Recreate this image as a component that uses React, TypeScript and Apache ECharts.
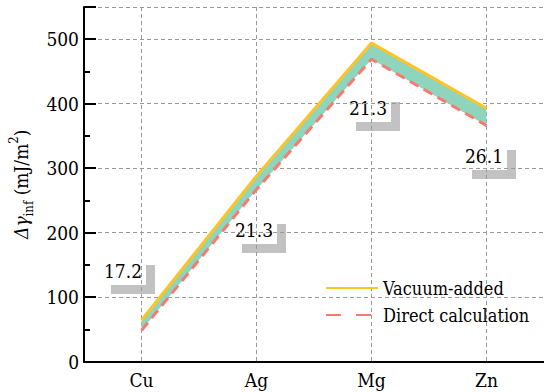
import React, { useEffect, useRef } from "react";
import * as echarts from "echarts";

const categories = ["Cu", "Ag", "Mg", "Zn"];
const vacuumAdded = [64, 288, 494, 393];
const directCalc = [48, 267, 469, 366];
const slopeLabels = ["17.2", "21.3", "21.3", "26.1"];
const yTicks = [0, 100, 200, 300, 400, 500];

const FONT = "DejaVu Serif Condensed";

// annotation anchors (right-bottom corner of each gray L, pixels)
const annoAnchors = [
  [155, 294],
  [286, 253],
  [400, 131],
  [516, 179],
];

export default function App() {
  const ref = useRef<HTMLDivElement>(null);
  useEffect(() => {
    if (!ref.current) return;
    const chart = echarts.init(ref.current, undefined, { renderer: "svg" });
    const band = vacuumAdded.map((v, i) => v - directCalc[i]);
    const graphics: any[] = [];
    annoAnchors.forEach(([R, B], i) => {
      graphics.push({
        type: "rect",
        shape: { x: R - 44, y: B - 9, width: 44, height: 9 },
        style: { fill: "#c2c2c2" },
      });
      graphics.push({
        type: "rect",
        shape: { x: R - 9, y: B - 29, width: 9, height: 29 },
        style: { fill: "#c2c2c2" },
      });
      graphics.push({
        type: "text",
        x: R - 13,
        y: B - 23.5,
        style: {
          text: slopeLabels[i],
          align: "right",
          verticalAlign: "middle",
          fontFamily: FONT,
          fontSize: 19,
          fill: "#000",
          backgroundColor: "#fff",
        },
      });
    });
    const axisLineStyle = { color: "#000", width: 2 };
    chart.setOption({
      animation: false,
      grid: { left: 84, right: 0, top: 7, bottom: 30.5, containLabel: false, outerBoundsMode: "none" },
      legend: {
        orient: "vertical",
        left: 320,
        top: 273,
        itemWidth: 52,
        itemHeight: 14,
        itemGap: 7,
        itemStyle: { opacity: 0 },
        textStyle: { fontFamily: FONT, fontSize: 18, color: "#000", lineHeight: 20 },
        data: [
          { name: "Vacuum-added" },
          { name: "Direct calculation", lineStyle: { type: [15, 15] } },
        ],
      },
      xAxis: [
        {
          type: "category",
          data: categories,
          boundaryGap: true,
          position: "bottom",
          axisLine: { lineStyle: axisLineStyle },
          axisTick: { inside: true, length: 12, alignWithLabel: true, lineStyle: axisLineStyle },
          axisLabel: { fontFamily: FONT, fontSize: 19, color: "#000", margin: 9 },
          splitLine: {
            show: true,
            alignWithLabel: true,
            lineStyle: { type: [4, 3], color: "#999", width: 1 },
          },
        },
        {
          type: "category",
          data: categories,
          boundaryGap: true,
          position: "top",
          axisLine: { lineStyle: axisLineStyle },
          axisTick: { inside: true, length: 12, alignWithLabel: true, lineStyle: axisLineStyle },
          axisLabel: { show: false },
          splitLine: { show: false },
        },
      ],
      yAxis: [
        {
          type: "value",
          min: 0,
          max: 550,
          interval: 100,
          position: "left",
          axisLine: { show: true, lineStyle: axisLineStyle },
          axisTick: { show: true, inside: true, length: 12, lineStyle: axisLineStyle },
          axisLabel: {
            fontFamily: FONT,
            fontSize: 19,
            color: "#000",
            margin: 5,
            formatter: (v: number) => (yTicks.includes(v) ? String(v) : ""),
          },
          splitLine: { show: true, lineStyle: { type: [4, 3], color: "#999", width: 1 } },
          name: "{i|Δγ}{sub|inf}{n| (mJ/m}{sup|2}{n|)}",
          nameLocation: "middle",
          nameRotate: 90,
          nameGap: 46,
          nameTextStyle: {
            fontFamily: FONT,
            fontSize: 19,
            color: "#000",
            rich: {
              i: { fontFamily: FONT, fontSize: 19, fontStyle: "italic", color: "#000", lineHeight: 28 },
              sub: { fontFamily: FONT, fontSize: 13, color: "#000", lineHeight: 14, verticalAlign: "bottom" },
              n: { fontFamily: FONT, fontSize: 19, color: "#000", lineHeight: 28 },
              sup: { fontFamily: FONT, fontSize: 13, color: "#000", lineHeight: 14, verticalAlign: "top" },
            },
          },
        },
        {
          type: "value",
          min: 0,
          max: 550,
          interval: 50,
          position: "left",
          axisLine: { show: false },
          axisTick: { show: true, inside: true, length: 6, lineStyle: axisLineStyle },
          axisLabel: { show: false },
          splitLine: { show: false },
        },
      ],
      series: [
        {
          name: "base",
          type: "line",
          data: directCalc,
          stack: "band",
          symbol: "none",
          silent: true,
          lineStyle: { opacity: 0 },
        },
        {
          name: "band",
          type: "line",
          data: band,
          stack: "band",
          symbol: "none",
          silent: true,
          lineStyle: { opacity: 0 },
          areaStyle: { color: "#8fd5bd", opacity: 1 },
        },
        {
          name: "Vacuum-added",
          type: "line",
          data: vacuumAdded,
          symbol: "none",
          lineStyle: { color: "#ffc423", width: 3 },
          itemStyle: { color: "#ffc423" },
        },
        {
          name: "Direct calculation",
          type: "line",
          data: directCalc,
          symbol: "none",
          lineStyle: { color: "#f57a72", width: 3, type: [10, 6] },
          itemStyle: { color: "#f57a72" },
        },
      ],
      graphic: graphics,
    });
    return () => chart.dispose();
  }, []);
  return (
    <div
      ref={ref}
      style={{ position: "fixed", left: 0, top: 0, width: 544, height: 392, background: "#fff" }}
    />
  );
}
